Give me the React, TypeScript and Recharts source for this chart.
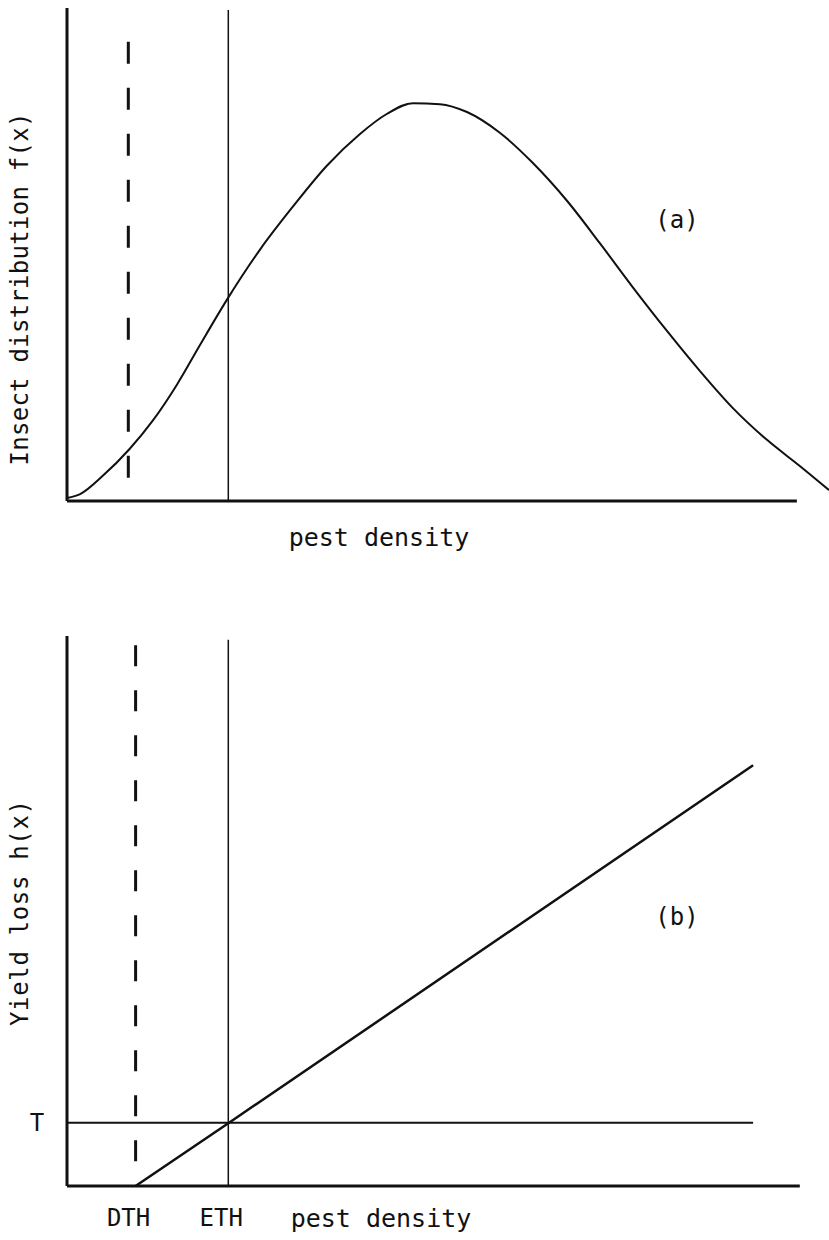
import React from 'react';
import { ComposedChart, Line, XAxis, YAxis, ReferenceLine, Customized } from 'recharts';

// panel (a): insect distribution f(x) against pest density
const densityA = [0, 1.8, 4.9, 8.6, 11.8, 15.1, 18.2, 21.9, 26.4, 31.0, 35.6, 40.1, 43.8, 47.4, 51.1, 54.8, 59.3, 63.8, 68.5, 73.0, 77.5, 82.2, 86.7, 91.2, 95.9, 100.4, 104.4];
const distribution = [0.6, 1.4, 5.1, 10.6, 16.4, 23.7, 31.6, 40.8, 50.9, 59.8, 68.0, 74.4, 78.5, 80.7, 80.5, 78.9, 74.7, 68.6, 60.9, 52.3, 43.4, 34.5, 26.4, 18.9, 12.4, 7.1, 2.2];

// panel (b): yield loss h(x), linear above the damage threshold
const densityB = [9.4, 22.2, 94.0];
const yieldLoss = [0, 11.5, 76.5];

const DTH_A = 8.4;
const DTH_B = 9.4;
const ETH = 22.1;
const T = 11.5;
const X_MAX = 104.4;
const AXIS_END_A = 100;
const AXIS_END_B = 100.4;
const T_END = 94;

const curveData = densityA.map((x, i) => ({ x, y: distribution[i] }));
const lossData = densityB.map((x, i) => ({ x, y: yieldLoss[i] }));

const FONT = '"DejaVu Sans Mono", "Liberation Mono", monospace';
const INK = '#111';

const VLabel = ({ x, y, text, len }: { x: number; y: number; text: string; len: number }) => (
  <text
    x={x}
    y={y}
    transform={`rotate(-90 ${x} ${y})`}
    textAnchor="middle"
    fontFamily={FONT}
    fontSize={24}
    fill={INK}
    textLength={len}
    lengthAdjust="spacing"
  >
    {text}
  </text>
);

const BottomTick = (props: any) => {
  const { x, payload } = props;
  const name = payload.value === ETH ? 'ETH' : 'DTH';
  return (
    <text x={x - 7} y={648} textAnchor="middle" fontFamily={FONT} fontSize={24} fill={INK} dominantBaseline="central">
      {name}
    </text>
  );
};

const LeftTick = (props: any) => {
  const { y } = props;
  return (
    <text x={37} y={y} textAnchor="middle" fontFamily={FONT} fontSize={24} fill={INK} dominantBaseline="central">
      T
    </text>
  );
};

export default function App() {
  return (
    <div style={{ position: 'absolute', left: 0, top: 0, width: 829, height: 1240, background: '#fff' }}>
      <ComposedChart width={829} height={570} data={curveData} margin={{ top: 8, right: 0, bottom: 0, left: 0 }}>
        <XAxis type="number" dataKey="x" domain={[0, X_MAX]} axisLine={false} tickLine={false} tick={false} height={69} />
        <YAxis type="number" domain={[0, 100]} width={67} axisLine={{ stroke: INK, strokeWidth: 3 }} tickLine={false} tick={false} />
        <ReferenceLine segment={[{ x: 0, y: 0 }, { x: AXIS_END_A, y: 0 }]} stroke={INK} strokeWidth={3} />
        <ReferenceLine segment={[{ x: ETH, y: 0 }, { x: ETH, y: 99.6 }]} stroke={INK} strokeWidth={1.5} />
        <ReferenceLine segment={[{ x: DTH_A, y: 4.7 }, { x: DTH_A, y: 93.5 }]} stroke={INK} strokeWidth={3} strokeDasharray="22 24" />
        <Line type="monotone" dataKey="y" stroke={INK} strokeWidth={2} dot={false} isAnimationActive={false} />
        <Customized
          component={() => (
            <g>
              <VLabel x={28} y={289} text="Insect distribution f(x)" len={353} />
              <text x={379} y={537} textAnchor="middle" dominantBaseline="central" fontFamily={FONT} fontSize={25} fill={INK}>
                pest density
              </text>
              <text x={677} y={220} textAnchor="middle" dominantBaseline="central" fontFamily={FONT} fontSize={24} fill={INK}>
                (a)
              </text>
            </g>
          )}
        />
      </ComposedChart>
      <ComposedChart width={829} height={670} margin={{ top: 66, right: 0, bottom: 0, left: 0 }}>
        <XAxis
          type="number"
          dataKey="x"
          domain={[0, X_MAX]}
          ticks={[DTH_B, ETH]}
          axisLine={false}
          tickLine={false}
          tick={<BottomTick />}
          height={54}
          interval={0}
        />
        <YAxis
          type="number"
          domain={[0, 100]}
          width={67}
          ticks={[T]}
          axisLine={{ stroke: INK, strokeWidth: 3 }}
          tickLine={false}
          tick={<LeftTick />}
        />
        <ReferenceLine segment={[{ x: 0, y: 0 }, { x: AXIS_END_B, y: 0 }]} stroke={INK} strokeWidth={3} />
        <ReferenceLine segment={[{ x: 0, y: T }, { x: T_END, y: T }]} stroke={INK} strokeWidth={2} />
        <ReferenceLine segment={[{ x: ETH, y: 0 }, { x: ETH, y: 99.3 }]} stroke={INK} strokeWidth={1.5} />
        <ReferenceLine segment={[{ x: DTH_B, y: 4.5 }, { x: DTH_B, y: 98.4 }]} stroke={INK} strokeWidth={3} strokeDasharray="21 24" />
        <Line data={lossData} type="linear" dataKey="y" stroke={INK} strokeWidth={2.5} dot={false} isAnimationActive={false} />
        <Customized
          component={() => (
            <g>
              <VLabel x={28} y={343} text="Yield loss h(x)" len={226} />
              <text x={381} y={648} textAnchor="middle" dominantBaseline="central" fontFamily={FONT} fontSize={25} fill={INK}>
                pest density
              </text>
              <text x={677} y={347} textAnchor="middle" dominantBaseline="central" fontFamily={FONT} fontSize={24} fill={INK}>
                (b)
              </text>
            </g>
          )}
        />
      </ComposedChart>
    </div>
  );
}
